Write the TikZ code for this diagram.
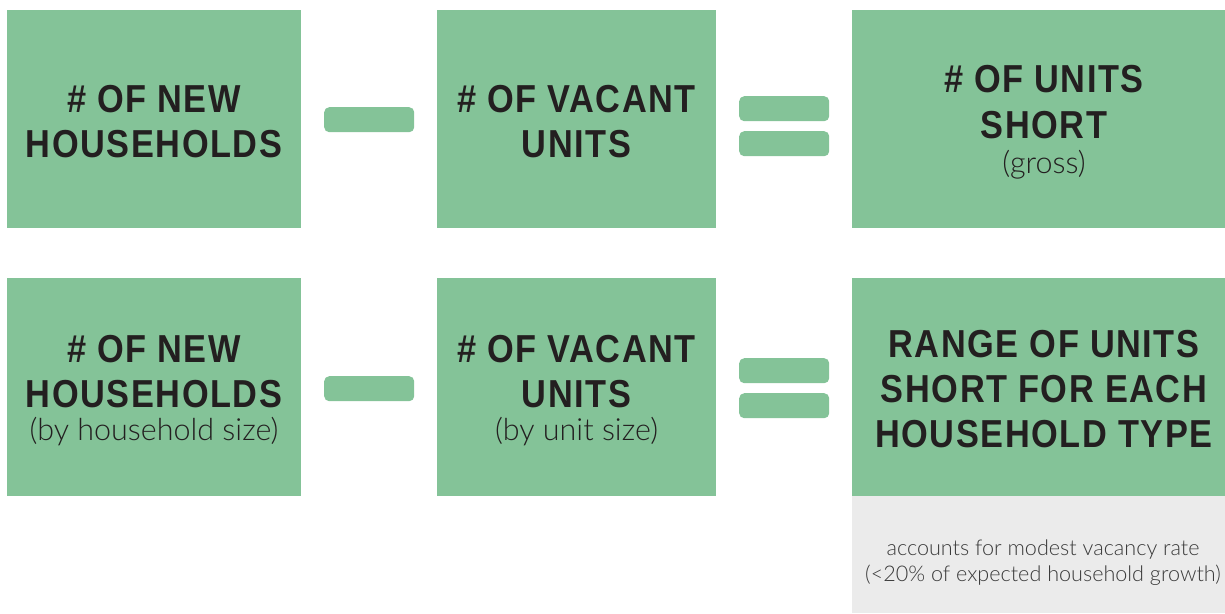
\documentclass[tikz,border=0pt]{standalone}
\usepackage{fontspec}
\setmainfont{Liberation Sans}
\newfontfamily\headfont[FakeStretch=0.88,LetterSpace=4]{Liberation Sans Bold}
\newfontfamily\lightfont{Lato Light}
\definecolor{boxgreen}{HTML}{84C398}
\definecolor{inkdark}{HTML}{231F20}
\definecolor{notegrey}{HTML}{EBEBEB}
\definecolor{notetext}{HTML}{3A3A3A}
\tikzset{
  tile/.style={fill=boxgreen, draw=none, anchor=north west, inner sep=0pt, outer sep=0pt},
  notebox/.style={fill=notegrey, draw=none, anchor=north west, inner sep=0pt, outer sep=0pt},
  opbar/.style={fill=boxgreen, draw=none, rounded corners=5pt, minimum width=90pt, minimum height=25pt, inner sep=0pt, anchor=north west},
  head/.style={anchor=base, inner sep=0pt, text=inkdark, font=\headfont\fontsize{39}{45}\selectfont},
  sub/.style={anchor=base, inner sep=0pt, text=inkdark, font=\lightfont\fontsize{30.5}{34}\selectfont},
  note/.style={anchor=base, inner sep=0pt, text=notetext, font=\lightfont\fontsize{21.6}{26}\selectfont}
}
\begin{document}
\begin{tikzpicture}[x=1pt,y=-1pt]
\useasboundingbox (0,0) rectangle (1225,613);
% tiles
\node[tile, minimum width=294pt, minimum height=218pt] (r1a) at (7,10) {};
\node[tile, minimum width=279pt, minimum height=218pt] (r1b) at (437,10) {};
\node[tile, minimum width=373pt, minimum height=218pt] (r1c) at (852,10) {};
\node[tile, minimum width=294pt, minimum height=218pt] (r2a) at (7,278) {};
\node[tile, minimum width=279pt, minimum height=218pt] (r2b) at (437,278) {};
\node[notebox, minimum width=373pt, minimum height=117pt] (r2n) at (852,496) {};
\node[tile, minimum width=373pt, minimum height=218pt] (r2c) at (852,278) {};
% operators
\node[opbar] (m1) at (324,107) {};
\node[opbar] (e1a) at (739,96) {};
\node[opbar] (e1b) at (739,131) {};
\node[opbar] (m2) at (324,376) {};
\node[opbar] (e2a) at (739,358) {};
\node[opbar] (e2b) at (739,393) {};
% row 1 texts
\node[head] (t1a1) at (154,112) {\# OF NEW};
\node[head] (t1a2) at (154,157) {HOUSEHOLDS};
\node[head] (t1b1) at (576.5,112) {\# OF VACANT};
\node[head] (t1b2) at (576.5,157) {UNITS};
\node[head] (t1c1) at (1044,92) {\# OF UNITS};
\node[head] (t1c2) at (1044,138) {SHORT};
\node[sub] (t1c3) at (1044,173) {(gross)};
% row 2 texts
\node[head] (t2a1) at (154,362) {\# OF NEW};
\node[head] (t2a2) at (154,407) {HOUSEHOLDS};
\node[sub] (t2a3) at (154,440) {(by household size)};
\node[head] (t2b1) at (576.5,362) {\# OF VACANT};
\node[head] (t2b2) at (576.5,407) {UNITS};
\node[sub] (t2b3) at (576.5,440) {(by unit size)};
\node[head] (t2c1) at (1044,357) {RANGE OF UNITS};
\node[head] (t2c2) at (1044,402) {SHORT FOR EACH};
\node[head] (t2c3) at (1044,447) {HOUSEHOLD TYPE};
% note under the last tile
\node[note] (n1) at (1043,555) {accounts for modest vacancy rate};
\node[note] (n2) at (1043,581) {(<20\% of expected household growth)};
\end{tikzpicture}
\end{document}
